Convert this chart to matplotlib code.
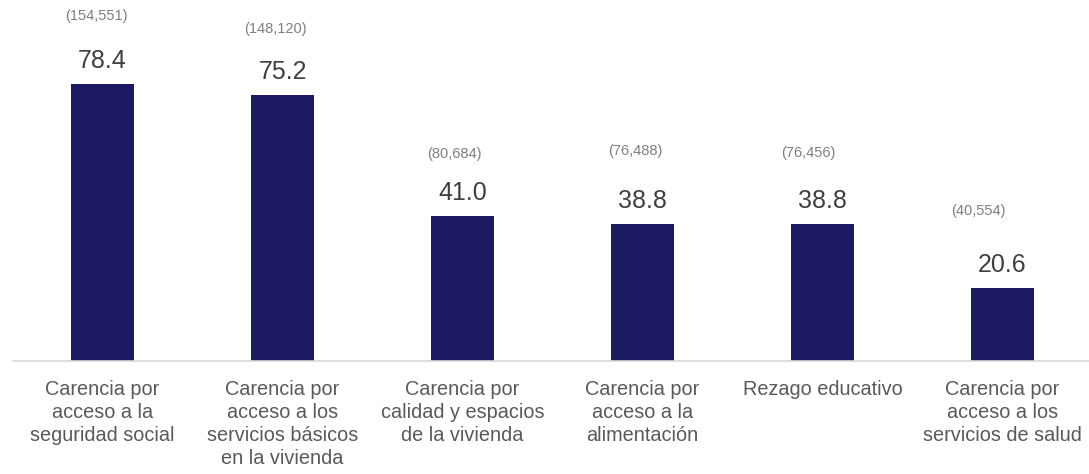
import numpy as np
import matplotlib
matplotlib.use('Agg')
import matplotlib.pyplot as plt

#%% Data
categorias = ['Carencia por\nacceso a la\nseguridad social',
              'Carencia por\nacceso a los\nservicios básicos\nen la vivienda',
              'Carencia por\ncalidad y espacios\nde la vivienda',
              'Carencia por\nacceso a la\nalimentación',
              'Rezago educativo',
              'Carencia por\nacceso a los\nservicios de salud']
porcentaje = [78.4, 75.2, 41.0, 38.8, 38.8, 20.6]
personas = ['(154,551)', '(148,120)', '(80,684)', '(76,488)', '(76,456)', '(40,554)']

# label offsets (px) for the counts: dx from bar centre, dy above bar top
cnt_dx = [-6.5, -7.5, -8.5, -7.5, -14.5, -24]
cnt_dy = [68, 66.5, 62, 73, 71, 77]

#%% Plot
plt.rcParams['font.family'] = ['Liberation Sans', 'DejaVu Sans']
dpi = 100
fig = plt.figure(figsize=(10.89, 4.74), dpi=dpi)
ax = fig.add_axes([12.5/1089, 113/474, 1080/1089, 361/474])

x = np.arange(len(categorias))
ax.bar(x, porcentaje, width=0.355, color='#1b1960', zorder=2)
ax.set_xlim(-0.5, 5.5)
ax.set_ylim(0, 102.2)

px = 72/dpi  # points per pixel
for i, v in enumerate(porcentaje):
    ax.annotate(f'{v:.1f}', (x[i], v), xytext=(0, 16*px), textcoords='offset points',
                ha='center', va='baseline', fontsize=18, color='#404040')
    ax.annotate(personas[i], (x[i], v), xytext=(cnt_dx[i]*px, cnt_dy[i]*px),
                textcoords='offset points', ha='center', va='center',
                fontsize=10.5, color='#7f7f7f')

ax.set_xticks(x)
ax.set_xticklabels(categorias, fontsize=14.3, color='#595959', linespacing=1.26, va='top')
ax.tick_params(axis='x', length=0, pad=14)
ax.set_yticks([])
for s in ['top', 'right', 'left']:
    ax.spines[s].set_visible(False)
ax.spines['bottom'].set_color('#d9d9d9')
ax.spines['bottom'].set_linewidth(1.2)

fig.savefig('out.png', dpi=dpi)
